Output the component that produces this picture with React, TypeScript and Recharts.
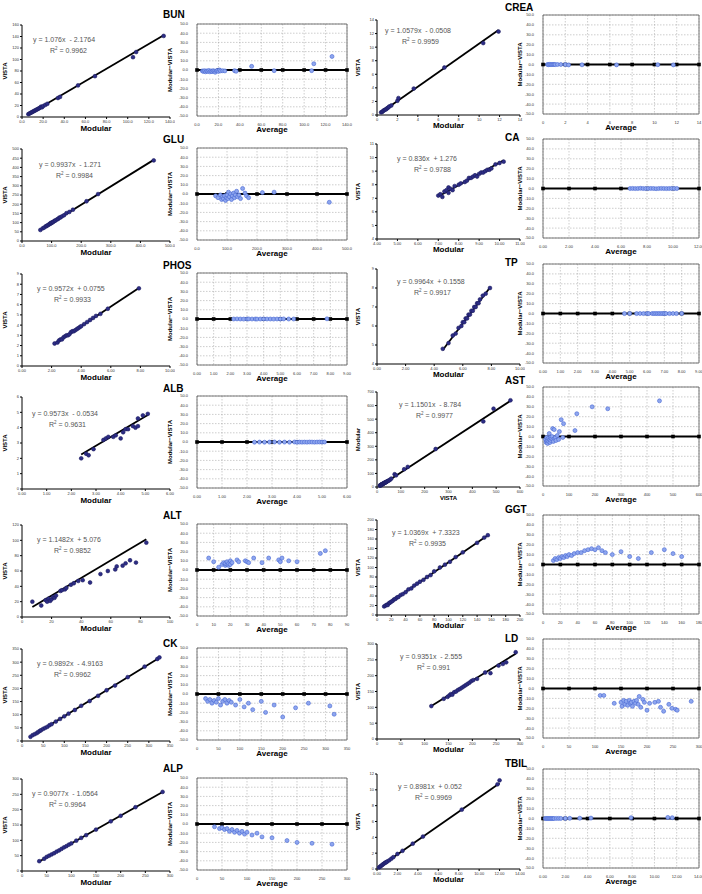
import React from "react";
import { ScatterChart, Scatter, XAxis, YAxis, CartesianGrid, ReferenceArea } from "recharts";

type Pt = [number, number];
type Ax = [number, number, number, number]; // min, max, step, decimals

// ---- BUN
const BUN_PTS: Pt[] = [[6,5],[7,6],[8,7],[9,8],[10,9],[11,10],[12,11],[13,12],[14,13],[15,14],[16,15],[17,16],[18,18],[19,17],[20,19],[22,21],[24,23],[34,33],[36,35],[53,55],[69,71],[105,104],[108,113],[134,141]];
const BUN_BA: Pt[] = [[5,-1],[6,-1.5],[7,-0.8],[8,-2],[9,-1],[10,-1.5],[11,-0.5],[12,-2],[13,-1],[14,-1.8],[15,-0.7],[16,-1.2],[17,-2.5],[18,-1],[19,-0.5],[20,-1.5],[21,0],[22,-1],[24,-0.8],[26,-1],[35,-0.7],[36.5,-1.4],[51,4],[72,-0.7],[107,-0.7],[109,6.8],[126,14.7]];
const BUN_FIT = [1.076, -2.1764];
const BUN_AXES: Ax[] = [[0,140,20,1],[0,160,20,0],[0,140,20,1]];

// ---- CREA
const CREA_PTS: Pt[] = [[0.4,0.4],[0.5,0.45],[0.6,0.6],[0.7,0.7],[0.8,0.8],[0.9,0.85],[1.0,1.0],[1.1,1.1],[1.2,1.25],[1.4,1.4],[2.0,2.1],[2.1,2.5],[3.6,3.9],[6.6,7.0],[10.4,10.6],[11.9,12.3]];
const CREA_BA: Pt[] = [[0.4,0],[0.5,-0.2],[0.6,0.1],[0.7,0],[0.8,-0.1],[0.9,0],[1.0,0.1],[1.1,-0.1],[1.3,0],[1.6,0],[2.0,-0.1],[2.3,-0.4],[3.5,-0.3],[6.6,-0.4],[10.3,-0.2],[11.7,-0.4]];
const CREA_FIT = [1.0579, -0.0508];
const CREA_AXES: Ax[] = [[0,14,2,0],[0,14,2,0],[0,14,2,0]];

// ---- GLU
const GLU_PTS: Pt[] = [[62,60],[70,69],[75,73],[80,80],[83,81],[86,85],[90,88],[93,93],[96,94],[98,99],[100,98],[103,102],[106,104],[110,110],[113,111],[118,117],[122,120],[126,127],[130,128],[135,134],[142,140],[150,151],[160,158],[172,170],[218,216],[257,255],[445,438]];
const GLU_BA: Pt[] = [[62,-2],[70,-4],[78,-1],[82,-6],[85,-3],[88,-5],[92,-2],[95,-7],[98,-4],[100,-1],[103,-5],[105,2],[108,-3],[112,0],[115,-6],[118,-2],[122,1],[125,-4],[128,-1],[132,3],[135,-3],[140,-1],[145,-5],[152,6],[160,1],[165,-2],[172,-4],[218,1.5],[257,2],[441,-9]];
const GLU_FIT = [0.9937, -1.271];
const GLU_AXES: Ax[] = [[0,500,100,1],[0,500,50,0],[0,500,100,1]];

// ---- CA
const CA_PTS: Pt[] = [[7.0,7.2],[7.1,7.3],[7.2,7.1],[7.3,7.5],[7.4,7.6],[7.5,7.4],[7.5,7.8],[7.6,7.7],[7.7,7.6],[7.8,7.9],[8.0,8.0],[8.1,8.1],[8.3,8.2],[8.4,8.3],[8.5,8.5],[8.6,8.5],[8.7,8.6],[8.8,8.7],[8.9,8.6],[9.0,8.8],[9.1,8.9],[9.2,8.9],[9.3,9.0],[9.4,9.1],[9.5,9.1],[9.6,9.2],[9.8,9.5],[10.0,9.6],[10.2,9.7]];
const CA_BA: Pt[] = [[6.7,0],[6.9,0.1],[7.1,-0.1],[7.3,0],[7.5,0.2],[7.7,0],[7.9,-0.1],[8.1,0],[8.3,0.1],[8.5,0],[8.7,-0.2],[8.9,0],[9.1,0.1],[9.3,0],[9.5,-0.1],[9.7,0],[9.9,0.1],[10.1,0],[10.3,0]];
const CA_FIT = [0.836, 1.276];
const CA_AXES: Ax[] = [[4,11,1,2],[4,11,1,0],[0,12,2,2]];

// ---- PHOS
const PHOS_PTS: Pt[] = [[2.2,2.2],[2.4,2.3],[2.5,2.5],[2.6,2.6],[2.7,2.6],[2.8,2.8],[2.9,2.9],[3.0,3.0],[3.1,3.0],[3.2,3.1],[3.3,3.3],[3.4,3.4],[3.5,3.4],[3.6,3.5],[3.7,3.6],[3.8,3.7],[3.9,3.8],[4.0,3.9],[4.2,4.1],[4.4,4.3],[4.6,4.5],[4.8,4.7],[5.0,4.9],[5.3,5.1],[5.8,5.6],[7.9,7.6]];
const PHOS_BA: Pt[] = [[2.2,0],[2.4,0.1],[2.6,0],[2.8,-0.1],[3.0,0],[3.1,0.1],[3.3,0],[3.5,0],[3.6,-0.1],[3.8,0],[4.0,0.1],[4.2,0],[4.4,0],[4.6,-0.1],[4.8,0],[5.0,0],[5.2,0.1],[5.5,0],[5.8,0],[7.8,0.2]];
const PHOS_FIT = [0.9572, 0.0755];
const PHOS_AXES: Ax[] = [[0,10,2,2],[0,9,1,0],[0,9,1,2]];

// ---- TP
const TP_PTS: Pt[] = [[4.6,4.8],[5.0,5.1],[5.3,5.5],[5.5,5.6],[5.7,5.9],[5.9,6.0],[6.0,6.2],[6.1,6.2],[6.2,6.4],[6.3,6.4],[6.4,6.6],[6.5,6.6],[6.6,6.8],[6.7,6.8],[6.8,7.0],[6.9,7.0],[7.0,7.2],[7.1,7.2],[7.2,7.4],[7.4,7.6],[7.6,7.7],[7.9,8.0]];
const TP_BA: Pt[] = [[4.7,-0.1],[5.0,0],[5.4,-0.1],[5.6,0],[5.8,-0.1],[6.0,0],[6.1,-0.1],[6.3,0],[6.4,-0.1],[6.5,0],[6.6,-0.1],[6.7,0],[6.8,-0.1],[6.9,0],[7.0,-0.1],[7.1,0],[7.3,-0.1],[7.5,0],[7.7,-0.1],[8.0,0]];
const TP_FIT = [0.9964, 0.1558];
const TP_AXES: Ax[] = [[0,10,2,2],[4,9,1,0],[0,9,1,2]];

// ---- ALB
const ALB_PTS: Pt[] = [[2.4,2.0],[2.6,2.3],[2.7,2.2],[2.9,2.6],[3.3,3.2],[3.4,3.3],[3.5,3.4],[3.7,3.4],[3.8,3.5],[4.0,3.3],[4.1,3.7],[4.2,3.9],[4.3,3.9],[4.5,4.1],[4.6,4.0],[4.7,4.1],[4.7,4.6],[4.9,4.8],[5.1,4.9]];
const ALB_BA: Pt[] = [[2.3,-0.2],[2.5,-0.1],[2.7,-0.2],[2.9,-0.1],[3.1,0],[3.3,-0.2],[3.5,-0.1],[3.7,-0.2],[3.9,0],[4.0,-0.3],[4.1,-0.1],[4.2,-0.2],[4.3,-0.1],[4.4,-0.2],[4.5,0],[4.6,-0.1],[4.7,-0.2],[4.8,-0.1],[4.9,0],[5.0,-0.1],[5.1,0]];
const ALB_FIT = [0.9573, -0.0534];
const ALB_AXES: Ax[] = [[0,6,1,2],[0,6,1,0],[0,6,1,2]];

// ---- AST (x: VISTA, y: Modular)
const AST_PTS: Pt[] = [[12,10],[14,13],[15,12],[16,15],[18,16],[19,18],[20,20],[22,21],[23,19],[25,24],[27,25],[28,28],[30,29],[32,30],[34,33],[36,34],[38,37],[40,38],[43,42],[46,45],[50,48],[55,54],[60,62],[74,94],[80,86],[114,131],[129,148],[246,280],[446,483],[489,577],[560,639]];
const AST_BA: Pt[] = [[10,-3],[12,-6],[14,-1],[15,-5],[17,-4],[18,-7],[20,-2],[22,-5],[24,3],[25,-3],[27,-6],[28,-1],[30,-4],[32,-2],[35,0],[37,8],[38,-3],[40,-5],[43,7],[45,-2],[48,-1],[50,-4],[55,1],[60,-3],[63,5],[70,17],[76,-1],[79,13],[123,6],[130,23],[189,30],[249,28],[448,36]];
const AST_FIT = [1.1501, -8.784];
const AST_AXES: Ax[] = [[0,600,100,0],[0,700,100,0],[0,600,100,0]];

// ---- ALT
const ALT_PTS: Pt[] = [[7,20],[13,15],[16,22],[17,20],[18,24],[19,21],[20,23],[21,26],[22,25],[23,28],[26,34],[27,35],[29,36],[30,38],[33,42],[35,44],[38,47],[41,48],[46,45],[53,56],[58,60],[63,62],[64,66],[68,67],[70,70],[73,74],[77,71],[84,97]];
const ALT_BA: Pt[] = [[7,13],[10,9],[13,3],[15,6],[16,8],[17,5],[17,7],[18,6],[18,9],[19,5],[19,7],[20,6],[20,10],[21,8],[24,11],[25,9],[29,10],[30,9],[31,8],[34,13],[39,8],[43,13],[49,11],[50,9],[51,13],[55,10],[60,9],[74,18],[77,21]];
const ALT_FIT = [1.1482, 5.076];
const ALT_AXES: Ax[] = [[0,100,20,0],[0,120,20,0],[0,90,10,0]];

// ---- GGT
const GGT_PTS: Pt[] = [[10,18],[12,20],[14,22],[15,21],[17,25],[18,26],[20,28],[22,30],[24,33],[26,34],[28,37],[30,38],[33,42],[36,44],[40,48],[44,54],[48,56],[52,62],[56,66],[60,70],[65,74],[70,80],[75,84],[80,92],[88,100],[95,106],[102,112],[110,122],[120,132],[140,152],[150,163],[155,168]];
const GGT_BA: Pt[] = [[12,4],[14,6],[16,5],[18,7],[20,6],[22,8],[24,7],[26,9],[28,8],[30,10],[33,9],[36,11],[40,12],[44,12],[48,14],[52,15],[56,16],[60,15],[64,17],[68,14],[72,12],[80,10],[90,13],[100,8],[110,6],[125,12],[140,15],[150,11],[160,8]];
const GGT_FIT = [1.0369, 7.3323];
const GGT_AXES: Ax[] = [[0,200,20,0],[0,200,20,0],[0,180,20,0]];

// ---- CK
const CK_PTS: Pt[] = [[20,16],[25,22],[30,26],[35,30],[38,34],[42,38],[45,41],[50,46],[55,50],[60,54],[65,60],[70,64],[80,74],[90,84],[100,94],[110,104],[125,118],[140,134],[160,152],[180,172],[200,193],[220,211],[250,243],[290,283],[320,312],[325,318]];
const CK_BA: Pt[] = [[20,-5],[25,-8],[30,-6],[35,-10],[40,-7],[45,-9],[50,-5],[55,-12],[60,-8],[65,-6],[70,-10],[75,-7],[80,-9],[90,-12],[100,-6],[110,-14],[120,-10],[130,-17],[150,-8],[160,-20],[180,-12],[200,-25],[230,-15],[260,-10],[310,-13],[320,-22]];
const CK_FIT = [0.9892, -4.9163];
const CK_AXES: Ax[] = [[0,350,50,0],[0,350,50,0],[0,350,50,0]];

// ---- LD
const LD_PTS: Pt[] = [[114,104],[140,127],[148,133],[152,138],[155,142],[158,140],[162,148],[166,150],[170,155],[174,158],[178,162],[182,166],[186,170],[190,174],[194,178],[198,183],[202,186],[210,190],[227,210],[238,208],[255,232],[264,237],[271,242],[291,274]];
const LD_BA: Pt[] = [[110,-7],[117,-7],[137,-15],[150,-14],[152,-18],[155,-12],[158,-16],[160,-13],[163,-17],[166,-12],[168,-15],[170,-14],[172,-18],[175,-13],[178,-15],[180,-12],[183,-16],[185,-8],[188,-19],[192,-11],[195,-14],[200,-22],[205,-15],[215,-14],[222,-13],[226,-19],[232,-23],[242,-16],[248,-20],[255,-21],[258,-22],[285,-13]];
const LD_FIT = [0.9351, -2.555];
const LD_AXES: Ax[] = [[0,300,50,0],[0,300,50,0],[0,300,50,0]];

// ---- ALP
const ALP_PTS: Pt[] = [[35,32],[45,40],[50,46],[55,50],[60,54],[65,58],[70,63],[75,67],[80,72],[85,77],[90,81],[95,86],[100,90],[110,99],[120,108],[130,117],[150,135],[180,162],[200,180],[230,208],[285,258]];
const ALP_BA: Pt[] = [[35,-3],[45,-5],[50,-4],[55,-6],[60,-5],[65,-8],[70,-6],[75,-9],[80,-7],[85,-10],[90,-8],[95,-11],[100,-9],[110,-12],[120,-10],[130,-14],[150,-15],[180,-18],[200,-20],[230,-21],[270,-22]];
const ALP_FIT = [0.9077, -1.0564];
const ALP_AXES: Ax[] = [[0,300,50,0],[0,300,50,0],[0,300,50,0]];

// ---- TBIL
const TBIL_PTS: Pt[] = [[0.2,0.2],[0.3,0.3],[0.4,0.4],[0.5,0.5],[0.6,0.6],[0.7,0.7],[0.8,0.8],[0.9,0.85],[1.0,0.95],[1.2,1.1],[1.4,1.3],[1.6,1.5],[2.0,1.9],[2.5,2.3],[3.5,3.2],[4.5,4.1],[8.3,7.5],[11.8,10.7],[12.0,11.2]];
const TBIL_BA: Pt[] = [[0.2,0],[0.3,0],[0.4,0],[0.5,0],[0.6,0],[0.7,0],[0.8,0],[0.9,0],[1.0,0],[1.2,0.1],[1.4,0.1],[1.6,0.1],[2.0,0.1],[2.4,0.2],[3.3,0.3],[4.3,0.4],[7.9,0.8],[11.2,1.1],[11.6,0.8]];
const TBIL_FIT = [0.8981, 0.052];
const TBIL_AXES: Ax[] = [[0,14,2,2],[0,12,2,0],[0,14,2,2]];

interface Panel {
  name: string;
  pts: Pt[];
  ba: Pt[];
  fit: number[];
  r2: string;
  axes: Ax[];
  xLabel?: string;
  yLabel?: string;
  eq: [number, number];
  titleY: number;
}

const PANELS: Panel[] = [
  { name: "BUN", pts: BUN_PTS, ba: BUN_BA, fit: BUN_FIT, r2: "0.9962", axes: BUN_AXES, eq: [11, 14], titleY: 15 },
  { name: "CREA", pts: CREA_PTS, ba: CREA_BA, fit: CREA_FIT, r2: "0.9959", axes: CREA_AXES, eq: [8, 10], titleY: 8 },
  { name: "GLU", pts: GLU_PTS, ba: GLU_BA, fit: GLU_FIT, r2: "0.9984", axes: GLU_AXES, eq: [17, 15], titleY: 16 },
  { name: "CA", pts: CA_PTS, ba: CA_BA, fit: CA_FIT, r2: "0.9788", axes: CA_AXES, eq: [20, 14], titleY: 14 },
  { name: "PHOS", pts: PHOS_PTS, ba: PHOS_BA, fit: PHOS_FIT, r2: "0.9933", axes: PHOS_AXES, eq: [15, 14], titleY: 17 },
  { name: "TP", pts: TP_PTS, ba: TP_BA, fit: TP_FIT, r2: "0.9917", axes: TP_AXES, eq: [20, 12], titleY: 14 },
  { name: "ALB", pts: ALB_PTS, ba: ALB_BA, fit: ALB_FIT, r2: "0.9631", axes: ALB_AXES, eq: [10, 16], titleY: 17 },
  { name: "AST", pts: AST_PTS, ba: AST_BA, fit: AST_FIT, r2: "0.9977", axes: AST_AXES, eq: [22, 12], titleY: 9, xLabel: "VISTA", yLabel: "Modular" },
  { name: "ALT", pts: ALT_PTS, ba: ALT_BA, fit: ALT_FIT, r2: "0.9852", axes: ALT_AXES, eq: [15, 14], titleY: 16 },
  { name: "GGT", pts: GGT_PTS, ba: GGT_BA, fit: GGT_FIT, r2: "0.9935", axes: GGT_AXES, eq: [15, 12], titleY: 10 },
  { name: "CK", pts: CK_PTS, ba: CK_BA, fit: CK_FIT, r2: "0.9962", axes: CK_AXES, eq: [15, 14], titleY: 20 },
  { name: "LD", pts: LD_PTS, ba: LD_BA, fit: LD_FIT, r2: "0.991", axes: LD_AXES, eq: [23, 12], titleY: 15 },
  { name: "ALP", pts: ALP_PTS, ba: ALP_BA, fit: ALP_FIT, r2: "0.9964", axes: ALP_AXES, eq: [10, 14], titleY: 15 },
  { name: "TBIL", pts: TBIL_PTS, ba: TBIL_BA, fit: TBIL_FIT, r2: "0.9969", axes: TBIL_AXES, eq: [21, 12], titleY: 10 },
];

const DIFF_AXIS: Ax = [-50, 50, 10, 1];

const ROW_TOP = [0, 124, 249, 372, 500, 624, 754];
const H = 140;

// plot-area geometry per column (relative to the row top)
const GEOM = [
  {
    sc: { left: 0, w: 175, top: 25, right: 5, yw: 22, xh: 23, ylOff: 5, xlOff: 9 },
    ba: { left: 163, w: 195, top: 24, right: 11, yw: 34, xh: 24, ylOff: 7, xlOff: 8 },
    titleLeft: 163,
  },
  {
    sc: { left: 348, w: 177, top: 20, right: 5, yw: 29, xh: 25, ylOff: 10, xlOff: 12 },
    ba: { left: 513, w: 189, top: 15, right: 3, yw: 30, xh: 26, ylOff: 7, xlOff: 10 },
    titleLeft: 505,
  },
];

const ticksOf = ([a, b, s]: Ax) => {
  const out: number[] = [];
  for (let v = a; v <= b + 1e-9; v += s) out.push(+v.toFixed(6));
  return out;
};

const TICK = { fontSize: 4, fill: "#333" };

const dot = (fill: string, stroke: string, r: number) => (p: any) =>
  <circle cx={p.cx} cy={p.cy} r={r} fill={fill} stroke={stroke} strokeWidth={0.6} />;

const square = (p: any) => <rect x={p.cx - 1.8} y={p.cy - 1.8} width={3.6} height={3.6} fill="#000" />;

const fmtEq = (f: number[]) =>
  `y = ${f[0]}x  ${f[1] < 0 ? "-" : "+"} ${Math.abs(f[1])}`;

function RegressionPanel({ p, side, top }: { p: Panel; side: number; top: number }) {
  const g = GEOM[side].sc;
  const [sx, sy] = p.axes;
  const data = p.pts.map(([x, y]) => ({ x, y }));
  const xs = p.pts.map((d) => d[0]);
  const lo = Math.min(...xs);
  const hi = Math.max(...xs);
  const fit = [lo, hi].map((x) => ({ x, y: p.fit[0] * x + p.fit[1] }));
  return (
    <div style={{ position: "absolute", left: g.left, top, width: g.w, height: H }}>
      <ScatterChart
        width={g.w}
        height={H}
        margin={{ top: g.top, right: g.right, left: 0, bottom: 0 }}
        style={{ overflow: "visible" }}
      >
        <XAxis
          type="number"
          dataKey="x"
          domain={[sx[0], sx[1]]}
          ticks={ticksOf(sx)}
          interval={0}
          tickFormatter={(v) => Number(v).toFixed(sx[3])}
          tick={TICK}
          tickSize={2}
          tickMargin={1}
          height={g.xh}
          stroke="#000"
          label={{
            value: p.xLabel ?? "Modular",
            position: "insideBottom",
            offset: g.xlOff,
            style: { fontSize: p.xLabel ? 6 : 8, fontWeight: "bold", fill: "#000" },
          }}
        />
        <YAxis
          type="number"
          dataKey="y"
          domain={[sy[0], sy[1]]}
          ticks={ticksOf(sy)}
          interval={0}
          tickFormatter={(v) => Number(v).toFixed(sy[3])}
          tick={TICK}
          tickSize={2}
          tickMargin={1}
          width={g.yw}
          stroke="#000"
          label={{
            value: p.yLabel ?? "VISTA",
            angle: -90,
            position: "insideLeft",
            offset: g.ylOff,
            style: { textAnchor: "middle", fontSize: 6, fontWeight: "bold", fill: "#000" },
          }}
        />
        <Scatter data={fit} line={{ stroke: "#000", strokeWidth: 1.8 }} shape={() => <g />} isAnimationActive={false} />
        <Scatter data={data} shape={dot("#2d2d86", "#1c1c60", 1.9)} isAnimationActive={false} />
      </ScatterChart>
      <div
        style={{
          position: "absolute",
          left: g.yw + p.eq[0],
          top: g.top + p.eq[1] - 4,
          fontSize: 7,
          lineHeight: "9px",
          color: "#555",
          whiteSpace: "pre",
        }}
      >
        <div>{fmtEq(p.fit)}</div>
        <div style={{ paddingLeft: 17 }}>
          R<sup style={{ fontSize: 4.5 }}>2</sup> = {p.r2}
        </div>
      </div>
    </div>
  );
}

function DiffPanel({ p, side, top }: { p: Panel; side: number; top: number }) {
  const g = GEOM[side].ba;
  const bx = p.axes[2];
  const data = p.ba.map(([x, y]) => ({ x, y }));
  const zero = ticksOf(bx).map((x) => ({ x, y: 0 }));
  return (
    <div style={{ position: "absolute", left: g.left, top, width: g.w, height: H }}>
      <ScatterChart
        width={g.w}
        height={H}
        margin={{ top: g.top, right: g.right, left: 0, bottom: 0 }}
        style={{ overflow: "visible" }}
      >
        <CartesianGrid strokeDasharray="1.5 1.5" stroke="#9a9a9a" strokeWidth={0.5} />
        <XAxis
          type="number"
          dataKey="x"
          domain={[bx[0], bx[1]]}
          ticks={ticksOf(bx)}
          interval={0}
          tickFormatter={(v) => Number(v).toFixed(bx[3])}
          tick={TICK}
          tickLine={false}
          axisLine={false}
          tickMargin={1}
          height={g.xh}
          label={{
            value: "Average",
            position: "insideBottom",
            offset: g.xlOff,
            style: { fontSize: 8, fontWeight: "bold", fill: "#000" },
          }}
        />
        <YAxis
          type="number"
          dataKey="y"
          domain={[DIFF_AXIS[0], DIFF_AXIS[1]]}
          ticks={ticksOf(DIFF_AXIS)}
          interval={0}
          tickFormatter={(v) => Number(v).toFixed(DIFF_AXIS[3])}
          tick={TICK}
          tickLine={false}
          axisLine={false}
          tickMargin={3}
          width={g.yw}
          label={{
            value: "Modular\u2212VISTA",
            angle: -90,
            position: "insideLeft",
            offset: g.ylOff,
            style: { textAnchor: "middle", fontSize: 6, fontWeight: "bold", fill: "#000" },
          }}
        />
        <ReferenceArea
          x1={bx[0]}
          x2={bx[1]}
          y1={DIFF_AXIS[0]}
          y2={DIFF_AXIS[1]}
          fill="none"
          stroke="#555"
          strokeWidth={0.8}
        />
        <Scatter data={zero} line={{ stroke: "#000", strokeWidth: 1.8 }} shape={square} isAnimationActive={false} />
        <Scatter data={data} shape={dot("#8ea6ee", "#4766d4", 2)} isAnimationActive={false} />
      </ScatterChart>
    </div>
  );
}

export default function App() {
  return (
    <div
      style={{
        position: "absolute",
        left: 0,
        top: 0,
        width: 702,
        height: 894,
        overflow: "hidden",
        background: "#fff",
        fontFamily: "Arial, 'Liberation Sans', sans-serif",
      }}
    >
      {PANELS.map((p, i) => {
        const side = i % 2;
        const top = ROW_TOP[Math.floor(i / 2)];
        return (
          <React.Fragment key={p.name}>
            <RegressionPanel p={p} side={side} top={top} />
            <DiffPanel p={p} side={side} top={top} />
            <div
              style={{
                position: "absolute",
                left: GEOM[side].titleLeft,
                top: top + p.titleY - 5,
                fontSize: 10,
                lineHeight: "10px",
                fontWeight: "bold",
              }}
            >
              {p.name}
            </div>
          </React.Fragment>
        );
      })}
    </div>
  );
}
